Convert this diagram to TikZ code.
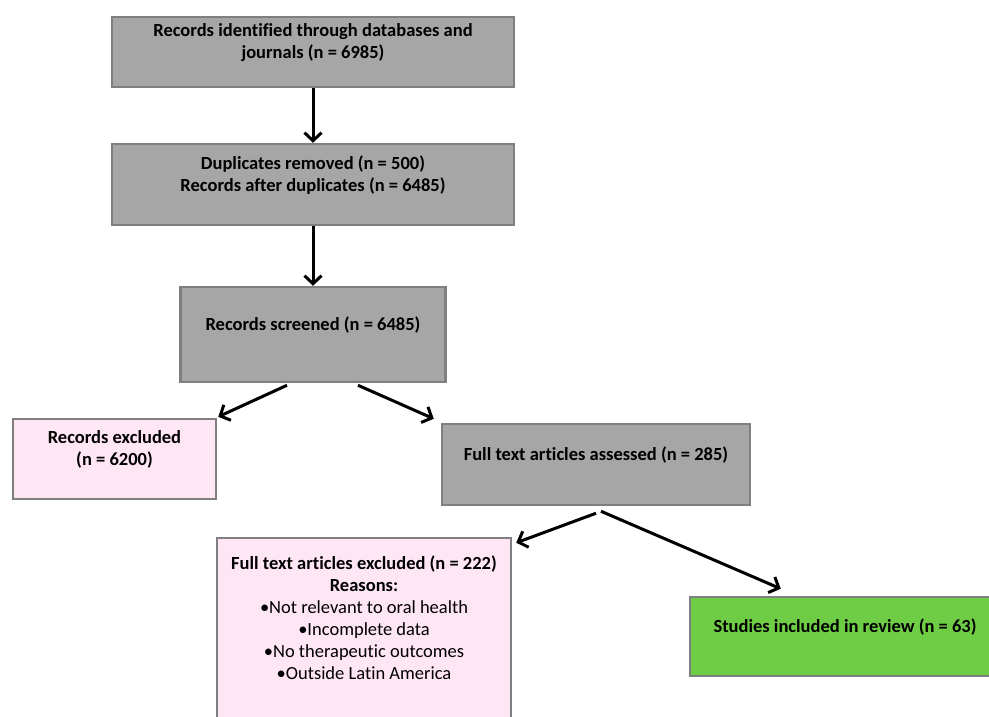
\documentclass[tikz,border=0pt]{standalone}
\usepackage{fontspec}
\setmainfont{Carlito}[Ligatures=NoCommon]
\usetikzlibrary{arrows.meta,calc}
\definecolor{boxgray}{HTML}{A6A6A6}
\definecolor{edgegray}{HTML}{7F7F7F}
\definecolor{exclpink}{HTML}{FFE6F4}
\definecolor{inclgreen}{HTML}{6FCD45}
\tikzset{
  stagebox/.style={draw=edgegray, line width=2.5pt, align=center, inner sep=0pt,
    font=\bfseries\fontsize{18.5}{22}\selectfont},
  graybox/.style={stagebox, fill=boxgray},
  pinkbox/.style={stagebox, fill=exclpink},
  greenbox/.style={stagebox, fill=inclgreen},
  flow/.style={line width=3pt, -{Straight Barb[length=8pt,width=17pt]}}
}
\begin{document}
\begin{tikzpicture}[x=1pt, y=-1pt]
  \useasboundingbox (0,0) rectangle (989,716);
  \clip (0,0) rectangle (989,716);
  \node[graybox, minimum width=402, minimum height=70] (ident) at (313,52)
    {Records identified through databases and\\journals (n = 6985)\\\mbox{}};
  \node[graybox, minimum width=402, minimum height=81] (dupl) at (313,184.5)
    {Duplicates removed (n = 500)\\Records after duplicates (n = 6485)\\\mbox{}};
  \node[graybox, minimum width=265, minimum height=95] (screen) at (313,334.5)
    {Records screened (n = 6485)\\\mbox{}};
  \node[pinkbox, minimum width=203, minimum height=80] (excl1) at (114.5,459)
    {Records excluded\\(n = 6200)\\\mbox{}};
  \node[graybox, minimum width=308, minimum height=81] (assess) at (596,464.5)
    {Full text articles assessed (n = 285)\\\mbox{}};
  \node[pinkbox, minimum width=294, minimum height=182] (excl2) at (364,629)
    {Full text articles excluded (n = 222)\\Reasons:\\
     {\mdseries •Not relevant to oral health}\\{\mdseries •Incomplete data}\\
     {\mdseries •No therapeutic outcomes}\\{\mdseries •Outside Latin America}\\\mbox{}};
  \node[greenbox, minimum width=310, minimum height=79] (incl) at (845,636.5)
    {Studies included in review (n = 63)\\\mbox{}};
  \draw[flow] (ident.south) -- (dupl.north);
  \draw[flow] (dupl.south) -- (screen.north);
  \draw[flow] ($(screen.south)+(-26,2)$) -- ($(excl1.north east)+(1,-1)$);
  \draw[flow] ($(screen.south)+(45,2)$) -- ($(assess.north west)+(-7,-4)$);
  \draw[flow] ($(assess.south)+(0,7)$) -- ($(excl2.north east)+(4,6)$);
  \draw[flow] ($(assess.south)+(5,5)$) -- ($(incl.north west)+(92,-7)$);
\end{tikzpicture}
\end{document}
